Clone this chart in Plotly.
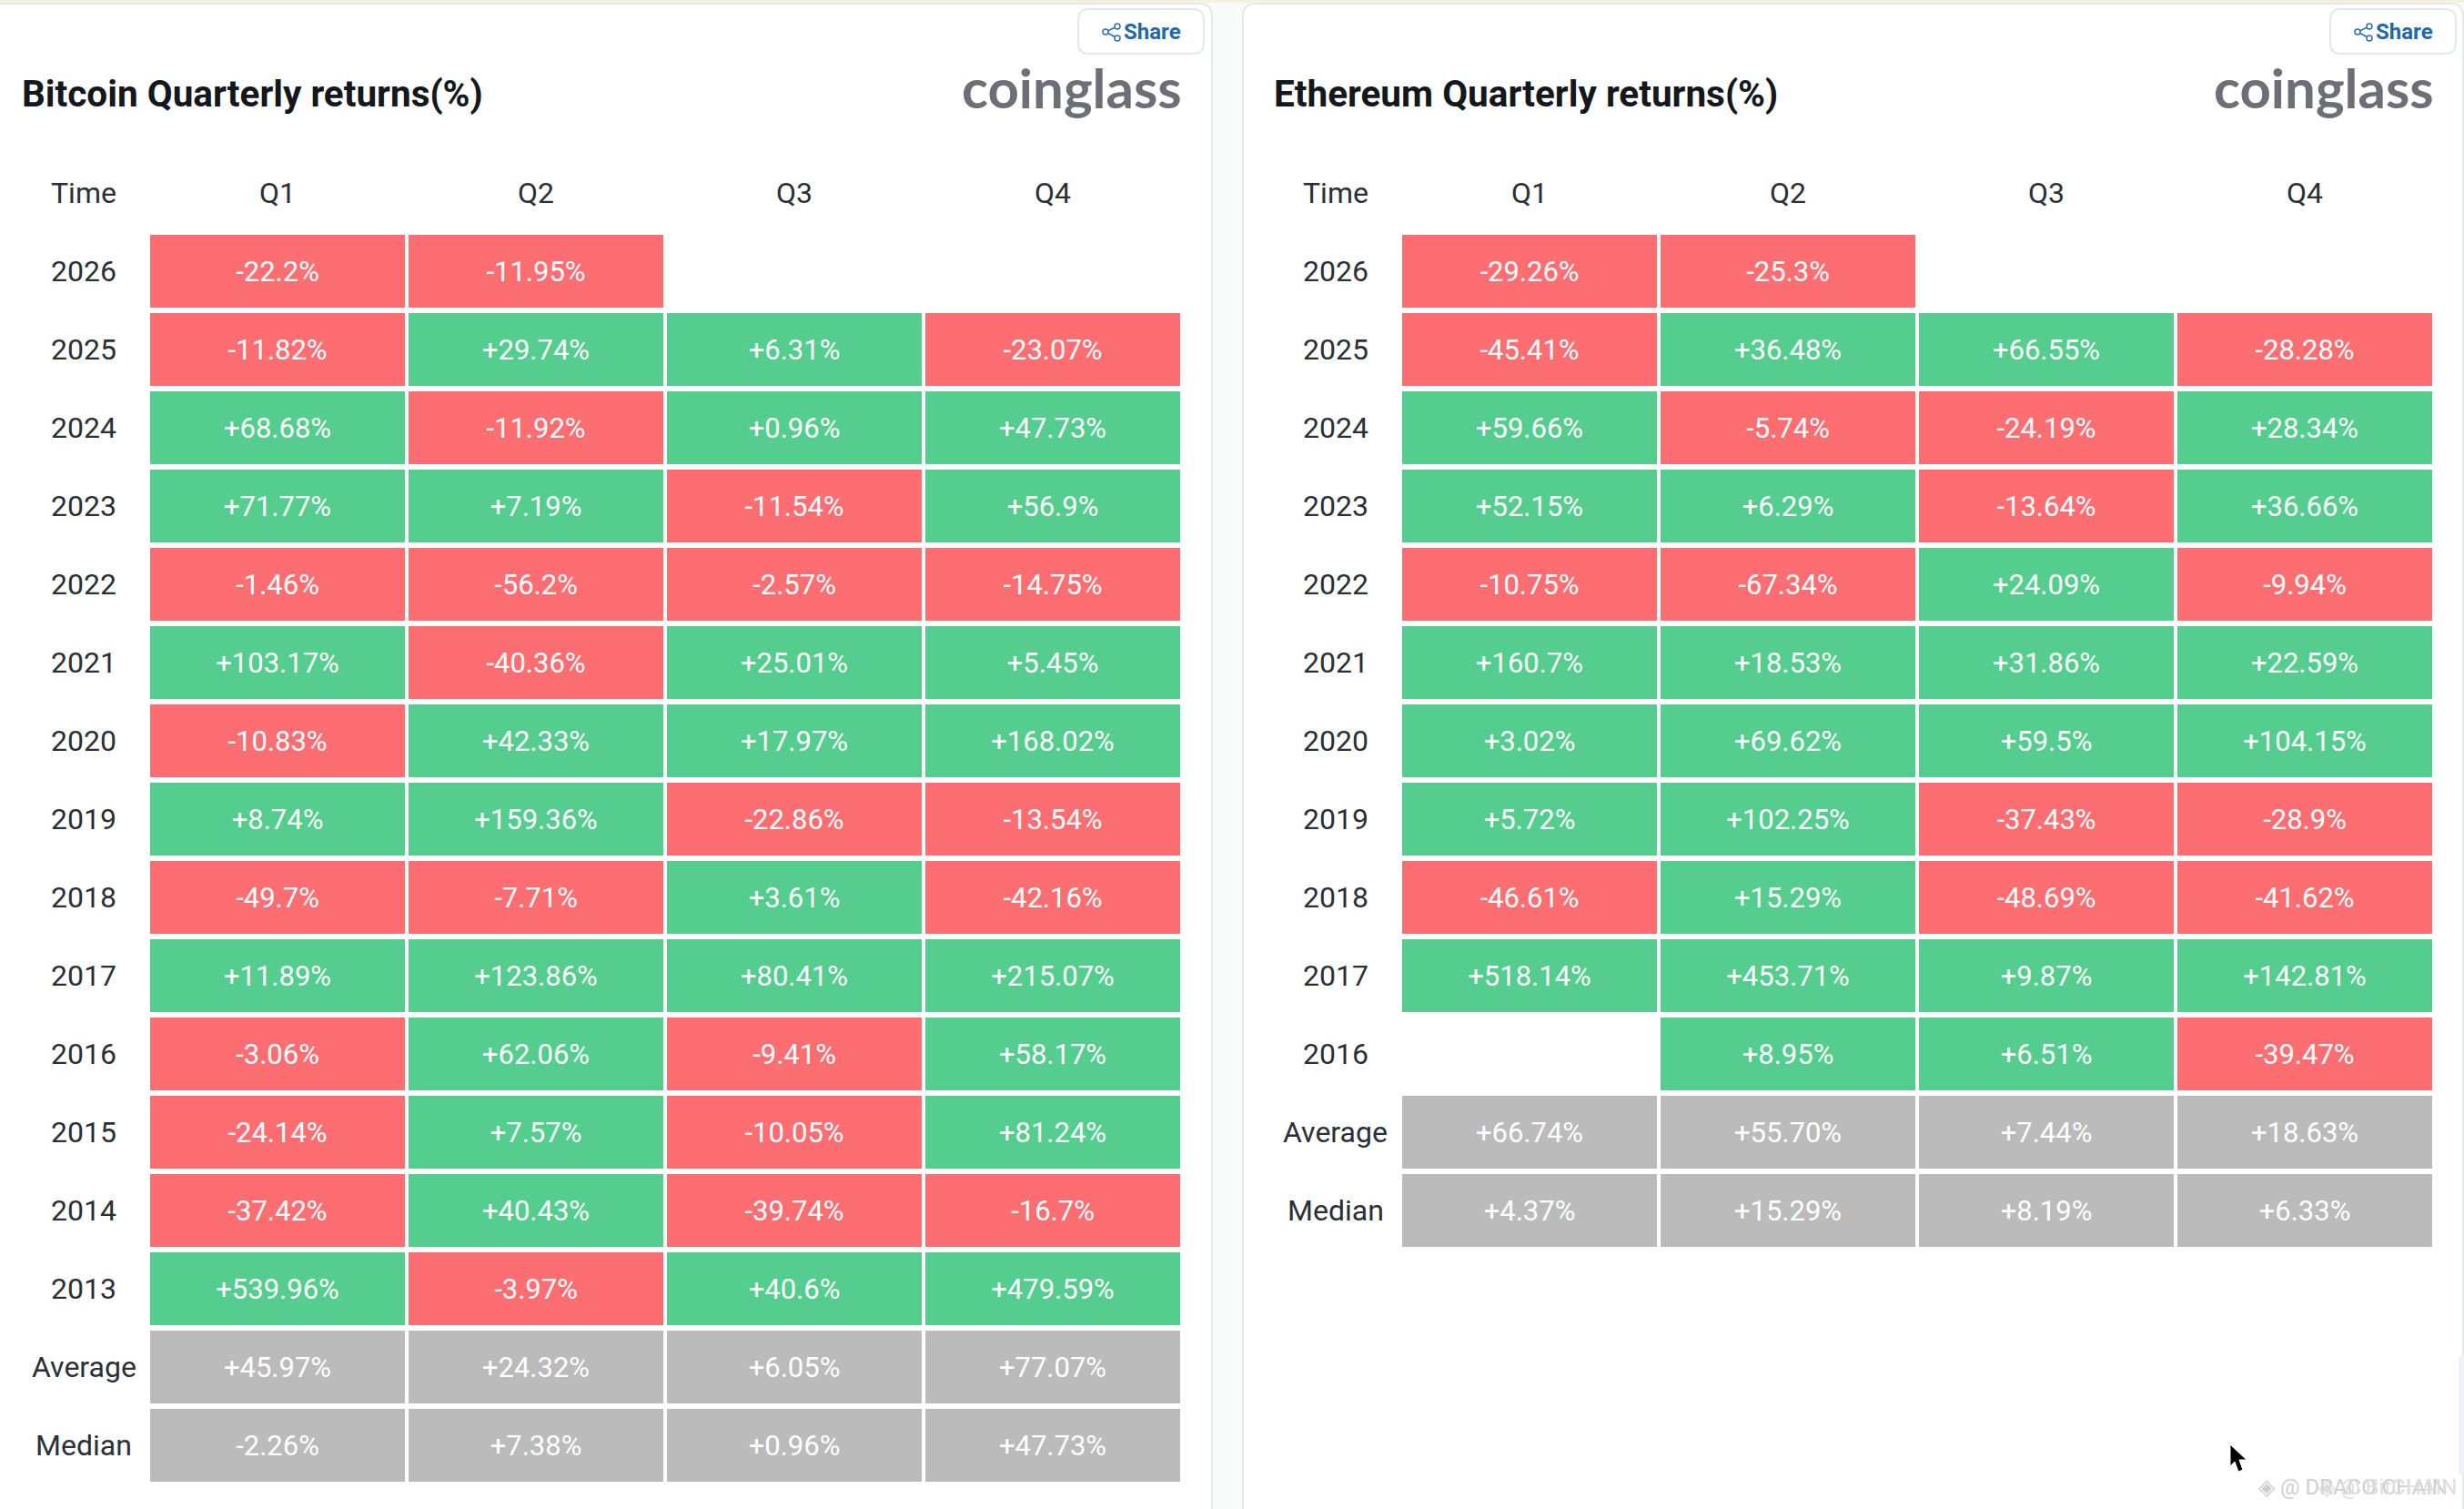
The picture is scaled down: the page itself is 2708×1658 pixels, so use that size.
import plotly.graph_objects as go

W = 2708
H = 1658

# ---------------------------
# Data
# ---------------------------
quarters = ["Q1", "Q2", "Q3", "Q4"]

btc_rows = ["2026", "2025", "2024", "2023", "2022", "2021", "2020", "2019", "2018",
            "2017", "2016", "2015", "2014", "2013", "Average", "Median"]
btc_q1 = ["-22.2%", "-11.82%", "+68.68%", "+71.77%", "-1.46%", "+103.17%", "-10.83%", "+8.74%",
          "-49.7%", "+11.89%", "-3.06%", "-24.14%", "-37.42%", "+539.96%", "+45.97%", "-2.26%"]
btc_q2 = ["-11.95%", "+29.74%", "-11.92%", "+7.19%", "-56.2%", "-40.36%", "+42.33%", "+159.36%",
          "-7.71%", "+123.86%", "+62.06%", "+7.57%", "+40.43%", "-3.97%", "+24.32%", "+7.38%"]
btc_q3 = ["", "+6.31%", "+0.96%", "-11.54%", "-2.57%", "+25.01%", "+17.97%", "-22.86%",
          "+3.61%", "+80.41%", "-9.41%", "-10.05%", "-39.74%", "+40.6%", "+6.05%", "+0.96%"]
btc_q4 = ["", "-23.07%", "+47.73%", "+56.9%", "-14.75%", "+5.45%", "+168.02%", "-13.54%",
          "-42.16%", "+215.07%", "+58.17%", "+81.24%", "-16.7%", "+479.59%", "+77.07%", "+47.73%"]

eth_rows = ["2026", "2025", "2024", "2023", "2022", "2021", "2020", "2019", "2018",
            "2017", "2016", "Average", "Median"]
eth_q1 = ["-29.26%", "-45.41%", "+59.66%", "+52.15%", "-10.75%", "+160.7%", "+3.02%", "+5.72%",
          "-46.61%", "+518.14%", "", "+66.74%", "+4.37%"]
eth_q2 = ["-25.3%", "+36.48%", "-5.74%", "+6.29%", "-67.34%", "+18.53%", "+69.62%", "+102.25%",
          "+15.29%", "+453.71%", "+8.95%", "+55.70%", "+15.29%"]
eth_q3 = ["", "+66.55%", "-24.19%", "-13.64%", "+24.09%", "+31.86%", "+59.5%", "-37.43%",
          "-48.69%", "+9.87%", "+6.51%", "+7.44%", "+8.19%"]
eth_q4 = ["", "-28.28%", "+28.34%", "+36.66%", "-9.94%", "+22.59%", "+104.15%", "-28.9%",
          "-41.62%", "+142.81%", "-39.47%", "+18.63%", "+6.33%"]

# ---------------------------
# Styles
# ---------------------------
RED = "#FD6E72"
GREEN = "#54CD8E"
GRAY = "#BBBBBB"
TEXT = "#2B2F36"
FONT = "Roboto"
PITCH = 86
TOP = 169
PANEL_DX = 1376


def px(x):
    return x / W


def py(y):
    return 1 - y / H


def path(points):
    return "M " + " L ".join(f"{px(x)} {py(y)}" for x, y in points)


def rounded_box(x0, y0, x1, y1, r):
    return (f"M {px(x0 + r)} {py(y0)} L {px(x1 - r)} {py(y0)} Q {px(x1)} {py(y0)} {px(x1)} {py(y0 + r)} "
            f"L {px(x1)} {py(y1 - r)} Q {px(x1)} {py(y1)} {px(x1 - r)} {py(y1)} "
            f"L {px(x0 + r)} {py(y1)} Q {px(x0)} {py(y1)} {px(x0)} {py(y1 - r)} "
            f"L {px(x0)} {py(y0 + r)} Q {px(x0)} {py(y0)} {px(x0 + r)} {py(y0)} Z")


def cell_code(label, text):
    if text == "":
        return None
    if label in ("Average", "Median"):
        return 0
    return 1 if text.startswith("+") else -1


def table_trace(rows, columns, xaxis, yaxis):
    # header row stays empty, it only reserves the grid line for Q1..Q4
    y = ["Time"] + rows
    text = [["", "", "", ""]]
    z = [[None, None, None, None]]
    for i, label in enumerate(rows):
        row = [col[i] for col in columns]
        text.append(row)
        z.append([cell_code(label, t) for t in row])
    return go.Heatmap(
        x=quarters, y=y, z=z, text=text, texttemplate="%{text}",
        textfont=dict(family=FONT, size=31, color="white"),
        colorscale=[[0, RED], [0.5, GRAY], [1, GREEN]], zmin=-1, zmax=1,
        showscale=False, xgap=4, ygap=6, xaxis=xaxis, yaxis=yaxis,
        hoverinfo="skip",
    )


fig = go.Figure()
fig.add_trace(table_trace(btc_rows, [btc_q1, btc_q2, btc_q3, btc_q4], "x", "y"))
fig.add_trace(table_trace(eth_rows, [eth_q1, eth_q2, eth_q3, eth_q4], "x2", "y2"))

axis_off = dict(showgrid=False, zeroline=False, showticklabels=False, ticks="", type="category")
x_left = (163, 1299)

annotations = []
shapes = [
    # cream line along the top of the page
    dict(type="rect", xref="paper", yref="paper", x0=0, x1=1, y0=py(3), y1=1,
         fillcolor="#F6F0E0", line_width=0, layer="below"),
    # left panel runs off the page on the left, right panel nearly reaches the right edge
    dict(type="path", xref="paper", yref="paper", path=rounded_box(-20, 4, 1332, H + 30, 14),
         fillcolor="white", line=dict(color="#E6E8EB", width=2), layer="below"),
    dict(type="path", xref="paper", yref="paper", path=rounded_box(1366, 4, 2707, H + 30, 14),
         fillcolor="white", line=dict(color="#E6E8EB", width=2), layer="below"),
    # pale sliver at the right edge of the screenshot
    dict(type="rect", xref="paper", yref="paper", x0=px(2702), x1=1, y0=py(1620), y1=py(1490),
         fillcolor="#F1F2F7", line_width=0),
]


def add_panel(title, rows, dx, xref, yref):
    annotations.append(dict(text=f"<b>{title}</b>", x=px(22 + dx), y=py(103), xref="paper", yref="paper",
                            xanchor="left", yanchor="middle", showarrow=False,
                            font=dict(family=FONT, size=40.5, color="#14171C")))
    annotations.append(dict(text="<b>coinglass</b>", x=px(1301 + dx), y=py(96), xref="paper", yref="paper",
                            xanchor="right", yanchor="middle", showarrow=False,
                            font=dict(family="Lato", size=60, color="#6C6F75")))
    # share button
    shapes.append(dict(type="path", xref="paper", yref="paper", path=rounded_box(1185 + dx, 10, 1323 + dx, 59, 12),
                       fillcolor="white", line=dict(color="#E4E7EC", width=2)))
    shapes.append(dict(type="path", xref="paper", yref="paper",
                       path=path([(1228 + dx, 29), (1215 + dx, 35), (1228 + dx, 42)]),
                       line=dict(color="#2F6FAE", width=1.5)))
    for cx, cy in [(1228, 29), (1215, 35), (1228, 42)]:
        shapes.append(dict(type="circle", xref="paper", yref="paper",
                           x0=px(cx + dx - 3), x1=px(cx + dx + 3), y0=py(cy + 3), y1=py(cy - 3),
                           fillcolor="white", line=dict(color="#2F6FAE", width=1.5)))
    annotations.append(dict(text="<b>Share</b>", x=px(1233 + dx), y=py(35), xref="paper", yref="paper",
                            xanchor="left", yanchor="middle", showarrow=False,
                            font=dict(family=FONT, size=24, color="#2369A8")))
    # row labels centred in the first column, y is the row index on the category axis
    for i, label in enumerate(["Time"] + rows):
        annotations.append(dict(text=label, x=px(92 + dx), y=i, xref="paper", yref=yref,
                                xanchor="center", yanchor="middle", showarrow=False,
                                font=dict(family=FONT, size=32, color=TEXT)))
    for q in quarters:
        annotations.append(dict(text=q, x=q, y=0, xref=xref, yref=yref,
                                xanchor="center", yanchor="middle", showarrow=False,
                                font=dict(family=FONT, size=32, color=TEXT)))


add_panel("Bitcoin Quarterly returns(%)", btc_rows, 0, "x", "y")
add_panel("Ethereum Quarterly returns(%)", eth_rows, PANEL_DX, "x2", "y2")

# mouse pointer and the screenshot watermark in the bottom right corner
shapes.append(dict(type="path", xref="paper", yref="paper",
                   path=path([(2451, 1587), (2451, 1611), (2456, 1606), (2460, 1617), (2465, 1615),
                              (2461, 1604), (2469, 1604)]) + " Z",
                   fillcolor="black", line=dict(color="white", width=1)))
for text, x, color in [("◈ @ DRACO CHAIN", 2480, "#CFCFCF"), ("◈ @ BitCHAIN", 2546, "#DEDEDE")]:
    annotations.append(dict(text=text, x=px(x), y=py(1634), xref="paper", yref="paper",
                            xanchor="left", yanchor="middle", showarrow=False,
                            font=dict(family=FONT, size=24, color=color)))

fig.update_layout(
    width=W, height=H, margin=dict(l=0, r=0, t=0, b=0),
    paper_bgcolor="#F9FAFA", plot_bgcolor="rgba(0,0,0,0)",
    showlegend=False, shapes=shapes, annotations=annotations,
    xaxis=dict(axis_off, domain=[px(x_left[0]), px(x_left[1])], anchor="y", range=[-0.5, 3.5]),
    yaxis=dict(axis_off, domain=[py(TOP + PITCH * (len(btc_rows) + 1)), py(TOP)], anchor="x",
               range=[len(btc_rows) + 0.5, -0.5]),
    xaxis2=dict(axis_off, domain=[px(x_left[0] + PANEL_DX), px(x_left[1] + PANEL_DX)], anchor="y2", range=[-0.5, 3.5]),
    yaxis2=dict(axis_off, domain=[py(TOP + PITCH * (len(eth_rows) + 1)), py(TOP)], anchor="x2",
                range=[len(eth_rows) + 0.5, -0.5]),
)

fig.write_html("out.html", config=dict(displayModeBar=False), post_script="document.body.style.margin='0';")
